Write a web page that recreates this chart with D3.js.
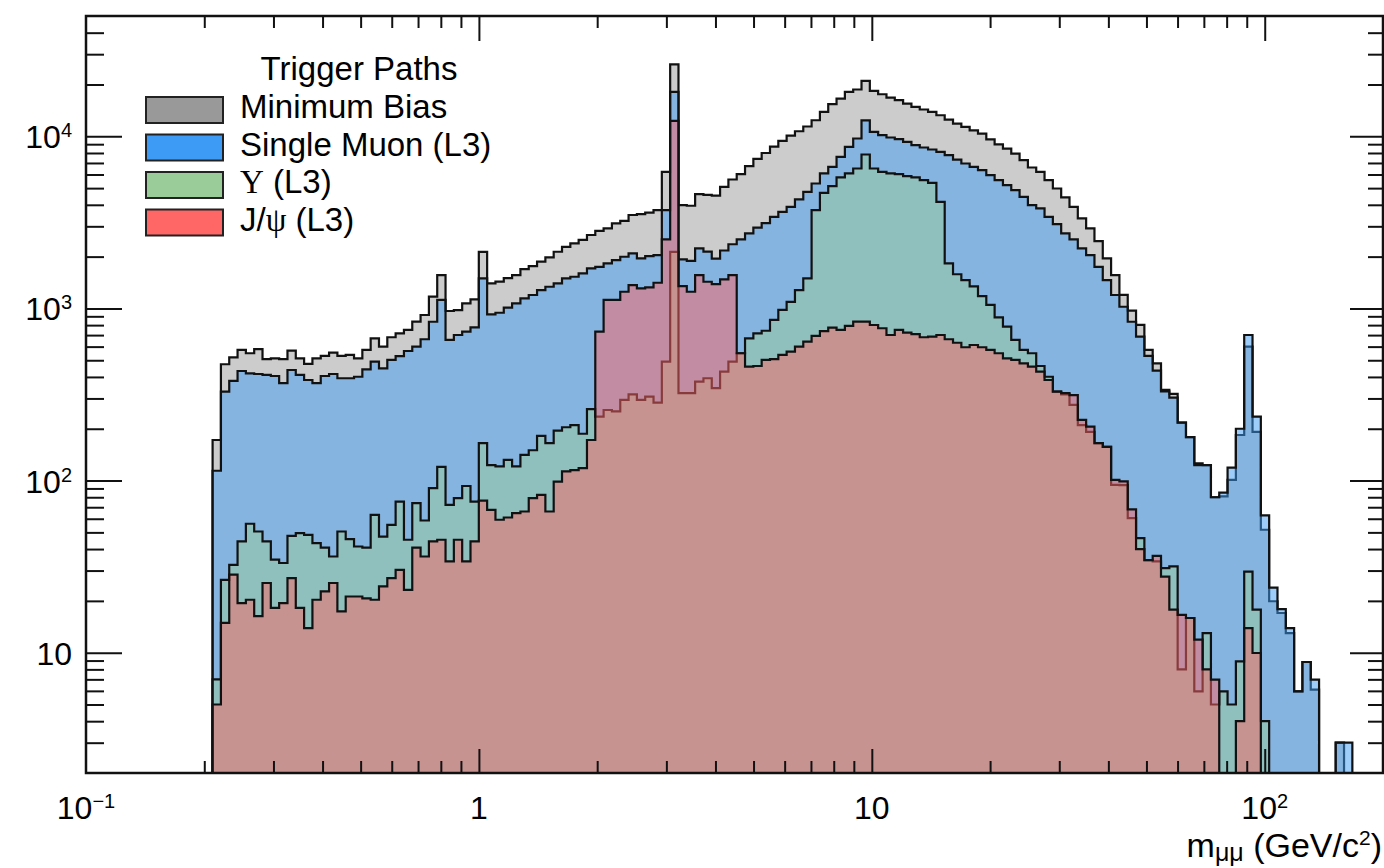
<!DOCTYPE html>
<html>
<head>
<meta charset="utf-8">
<script src="https://cdnjs.cloudflare.com/ajax/libs/d3/7.8.5/d3.min.js"></script>
<style>
  body { margin: 0; background: #fff; }
  svg text { font-family: "Liberation Sans", Arial, Helvetica, sans-serif; fill: #000; }
</style>
</head>
<body>
<svg id="chart" width="1384" height="868"></svg>
<script>
// log binning of the dimuon mass histograms: 150 bins from 0.2 to 300 GeV
var binLow = 0.2, binHigh = 300, nBins = 150;

// counts per bin, starting at bin 0 (0.2 GeV)
var minBiasCounts = [0,
  172, 474, 520, 574, 549, 580, 507, 513, 507, 568,
  513, 476, 513, 530, 553, 530, 537, 513, 574, 670,
  600, 680, 717, 750, 838, 916, 1170, 1560, 966, 978,
  1070, 1130, 2130, 1400, 1430, 1500, 1560, 1690, 1760, 1870,
  1980, 2135, 2280, 2390, 2500, 2670, 2825, 2920, 3120, 3230,
  3490, 3530, 3600, 3730, 6210, 26200, 3980, 3950, 4610, 4570,
  4520, 5085, 5610, 6025, 6705, 7400, 8000, 8700, 9400, 10100,
  10700, 11400, 12400, 13860, 15400, 16570, 18110, 18700, 20990, 18360,
  17550, 16790, 16210, 15490, 14810, 14310, 13860, 13250, 12510, 11860,
  11340, 10840, 10370, 9600, 8980, 8490, 7940, 7265, 6590, 6215,
  5560, 4975, 4415, 3893, 3333, 2917, 2460, 1953, 1563, 1200,
  970, 802, 574, 480, 336, 319, 217, 179, 126, 123,
  80, 81, 101, 184, 600, 192, 51.8, 19.9, 17, 13,
  5.96, 8.83, 6.1, 0, 0, 3, 0];

var singleMuonCounts = [0,
  114, 329, 379, 433, 420, 416, 411, 405, 368, 439,
  411, 384, 368, 405, 416, 393, 393, 401, 443, 491,
  449, 502, 529, 566, 600, 662, 837, 1120, 656, 701,
  733, 777, 1495, 924, 944, 1010, 1070, 1145, 1197, 1279,
  1337, 1400, 1496, 1528, 1600, 1710, 1746, 1827, 1910, 1997,
  2088, 1953, 2015, 2043, 3726, 18100, 1930, 1890, 2233, 2140,
  1945, 2170, 2360, 2520, 2729, 2950, 3130, 3406, 3641, 3893,
  4300, 4756, 5321, 6086, 6650, 7600, 8690, 9710, 12390, 10610,
  10150, 9840, 9620, 9290, 8880, 8610, 8380, 8120, 7770, 7330,
  6950, 6650, 6360, 5950, 5560, 5200, 4865, 4446, 3981, 3811,
  3406, 3090, 2729, 2518, 2233, 2043, 1746, 1462, 1197, 1023,
  837, 685, 530, 435, 330, 303, 217, 179, 123, 123,
  80, 85, 119, 200, 701, 235, 62.7, 23.9, 17.9, 13.9,
  5.96, 8.83, 6.97, 0, 0, 3, 3];

var upsilonCounts = [0,
  7, 26.5, 32.4, 44.3, 56.1, 50.6, 44.3, 34.7, 33.2, 47.7,
  49.5, 48.4, 43.3, 40.8, 36.2, 50.6, 45.7, 41.4, 40.8, 63.2,
  47.3, 55.3, 75.5, 45.3, 73.9, 58.6, 90.3, 120, 72.3, 79,
  93, 75.5, 165, 123, 121, 132, 121, 141, 150, 182,
  165, 195, 204, 210, 187, 260, 235, 257, 252, 294,
  317, 294, 307, 284, 491, 2133, 322, 322, 376, 393,
  344, 429, 491, 549, 670, 717, 742, 857, 980, 1093,
  1279, 1495, 3726, 4696, 5130, 5770, 6086, 6500, 7840, 6500,
  6215, 6086, 6025, 5864, 5770, 5560, 5370, 4160, 1827, 1580,
  1460, 1345, 1180, 1050, 888, 783, 656, 574, 549, 463,
  401, 329, 317, 275, 210, 192, 165, 157, 94.4, 94,
  60.5, 46.3, 34.5, 33.9, 31, 31.7, 8, 15.9, 5.96, 13,
  5, 5.96, 5, 8.9, 29.6, 17.8, 4];

var jpsiCounts = [0,
  5, 14.9, 28.4, 19.4, 20.3, 16.3, 25.4, 18.2, 19.4, 27.1,
  18.2, 13.9, 20.3, 22.7, 25.4, 17.4, 21.2, 21.2, 20.7, 20.3,
  24.3, 27.1, 30.3, 23.2, 40.8, 36.2, 44.3, 45.3, 33.9, 45.3,
  33.9, 44.3, 76.5, 67.6, 59.2, 61, 64.7, 66.1, 79, 82.6,
  66.1, 98.7, 113, 115, 118, 172, 733, 1120, 1120, 1250,
  1367, 1308, 1325, 1410, 2518, 12300, 1349, 1250, 1563, 1429,
  1385, 1476, 1563, 549, 459, 463, 502, 507, 537, 561,
  600, 641, 692, 739, 773, 750, 791, 838, 838, 801,
  767, 701, 750, 723, 710, 680, 685, 701, 662, 632,
  595, 613, 595, 574, 549, 513, 502, 480, 459, 429,
  384, 329, 322, 314, 225, 206, 165, 157, 101, 99,
  68, 40, 34.5, 36.5, 27.7, 17.8, 16.6, 15.9, 11.9, 8,
  6.97, 0, 0, 4, 13.9, 9.96];

var seriesNames = ["Minimum Bias", "Single Muon (L3)", "\u03A5 (L3)", "J/\u03C8 (L3)"];
var seriesColors = ["#999999", "#3d9bf5", "#99cc99", "#ff6666"];

var xMajor = [0.1, 1, 10, 100];
var yMajor = [10, 100, 1000, 10000];

var svg = d3.select("#chart");
var plotL = 86, plotR = 1383, plotT = 16, plotB = 773;

var x = d3.scaleLog().domain([0.1, 200]).range([plotL, plotR]);
var y = d3.scaleLog().domain([2, 50000]).range([plotB, plotT]);

function binEdge(k) {
  return binLow * Math.pow(binHigh / binLow, k / nBins);
}

// minor ticks 2..9 in every decade inside the domain
function minorTicks(scale) {
  var d = scale.domain(), out = [];
  for (var e = -2; e <= 5; e++) {
    for (var m = 2; m <= 9; m++) {
      var v = m * Math.pow(10, e);
      if (v > d[0] * 1.0001 && v < d[1] * 0.9999) out.push(v);
    }
  }
  return out;
}

svg.append("defs").append("clipPath").attr("id", "plotclip")
  .append("rect").attr("x", plotL).attr("y", plotT)
  .attr("width", plotR - plotL).attr("height", plotB - plotT);

// step outline of a histogram, closed along the bottom of the frame
function histPath(counts) {
  var pts = [[x(binEdge(0)), plotB + 2]];
  counts.forEach(function(c, k) {
    var yy = c > 0 ? y(Math.max(c, 1.5)) : plotB + 2;
    pts.push([x(binEdge(k)), yy], [x(binEdge(k + 1)), yy]);
  });
  pts.push([x(binEdge(counts.length)), plotB + 2]);
  return d3.line()(pts);
}

var hists = svg.append("g").attr("clip-path", "url(#plotclip)");
[minBiasCounts, singleMuonCounts, upsilonCounts, jpsiCounts].forEach(function(counts, i) {
  hists.append("path")
    .attr("d", histPath(counts))
    .attr("fill", seriesColors[i])
    .attr("fill-opacity", 0.5)
    .attr("stroke", "#111")
    .attr("stroke-width", 2.2)
    .attr("stroke-linejoin", "miter");
});

// ticks on all four sides
function tickAxis(gen, transform, values, size) {
  var g = svg.append("g").attr("transform", transform)
    .call(gen.tickValues(values).tickSize(size).tickSizeOuter(0).tickFormat(""));
  g.select(".domain").remove();
  g.selectAll("line").attr("stroke", "#111").attr("stroke-width", 2);
}
var xInner = xMajor.filter(function(v) { return v > 0.1; });
tickAxis(d3.axisBottom(x), "translate(0," + plotB + ")", xInner, -24);
tickAxis(d3.axisBottom(x), "translate(0," + plotB + ")", minorTicks(x), -12);
tickAxis(d3.axisTop(x), "translate(0," + plotT + ")", xInner, -25);
tickAxis(d3.axisTop(x), "translate(0," + plotT + ")", minorTicks(x), -12);
tickAxis(d3.axisLeft(y), "translate(" + plotL + ",0)", yMajor, -36);
tickAxis(d3.axisLeft(y), "translate(" + plotL + ",0)", minorTicks(y), -18);
tickAxis(d3.axisRight(y), "translate(" + plotR + ",0)", yMajor, -33);
tickAxis(d3.axisRight(y), "translate(" + plotR + ",0)", minorTicks(y), -15);

// frame
svg.append("rect")
  .attr("x", plotL).attr("y", plotT)
  .attr("width", plotR - plotL).attr("height", plotB - plotT)
  .attr("fill", "none").attr("stroke", "#111").attr("stroke-width", 2.5);

// power-of-ten label: "10" with superscript exponent
function powerLabel(sel, v) {
  var e = Math.round(Math.log10(v));
  if (e === 0) { sel.text("1"); return; }
  if (e === 1) { sel.text("10"); return; }
  sel.append("tspan").text("10");
  sel.append("tspan").attr("font-size", 20).attr("dy", -11)
    .text(e < 0 ? "\u2212" + (-e) : String(e));
}

yMajor.forEach(function(v) {
  var t = svg.append("text")
    .attr("x", 72).attr("y", y(v) + 12)
    .attr("text-anchor", "end").attr("font-size", 32);
  powerLabel(t, v);
});

xMajor.forEach(function(v) {
  var t = svg.append("text")
    .attr("x", x(v)).attr("y", 819)
    .attr("text-anchor", "middle").attr("font-size", 32);
  powerLabel(t, v);
});

// axis title
var title = svg.append("text")
  .attr("x", 1382).attr("y", 857)
  .attr("text-anchor", "end").attr("font-size", 34);
title.append("tspan").text("m");
title.append("tspan").attr("font-size", 25).attr("dy", 4).text("\u03BC\u03BC");
title.append("tspan").attr("dy", -4).text(" (GeV/c");
title.append("tspan").attr("font-size", 21).attr("dy", -12).text("2");
title.append("tspan").attr("dy", 12).text(")");

// legend
var legend = svg.append("g");
legend.append("text")
  .attr("x", 359).attr("y", 80)
  .attr("text-anchor", "middle").attr("font-size", 33)
  .text("Trigger Paths");

seriesNames.forEach(function(name, i) {
  var cy = 110 + i * 37.5;
  legend.append("rect")
    .attr("x", 146).attr("y", cy - 13)
    .attr("width", 77).attr("height", 26)
    .attr("fill", seriesColors[i])
    .attr("stroke", "#222").attr("stroke-width", 2);
  var t = legend.append("text")
    .attr("x", 240).attr("y", cy + 8)
    .attr("font-size", 33);
  if (i === 2) {
    t.append("tspan").attr("font-family", "Liberation Serif, DejaVu Serif, serif").text("\u03A5");
    t.append("tspan").text(" (L3)");
  } else if (i === 3) {
    t.append("tspan").text("J/");
    t.append("tspan").attr("font-family", "Liberation Serif, DejaVu Serif, serif").text("\u03C8");
    t.append("tspan").text(" (L3)");
  } else {
    t.text(name);
  }
});
</script>
</body>
</html>
